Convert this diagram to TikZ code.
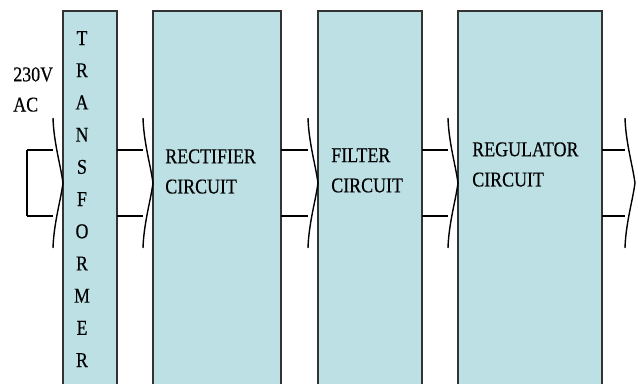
\documentclass[tikz,border=0pt]{standalone}
\usepackage{fontspec}
\usepackage{xcolor}
\usepackage{tikz}
\usetikzlibrary{positioning,calc}
\newfontfamily\bloquefuente[FakeStretch=0.85,FakeBold=0.4]{Liberation Serif}
\definecolor{cajaazul}{RGB}{188,224,228}
\definecolor{borde}{HTML}{333333}
% flecha de bloque: #1 = origen del vastago, #2 = punta
\newcommand{\bloqueflecha}[2]{%
  \draw[linea] (#1) ++(0,0.825) -- ($(#2)+(-0.25,0.825)$);
  \draw[linea] (#1) ++(0,-0.825) -- ($(#2)+(-0.25,-0.825)$);
  \draw[linea] ($(#2)+(-0.25,1.625)$) .. controls ($(#2)+(-0.23,1.0)$) and ($(#2)+(-0.06,0.45)$) .. (#2)
    .. controls ($(#2)+(-0.06,-0.45)$) and ($(#2)+(-0.23,-1.0)$) .. ($(#2)+(-0.25,-1.625)$);
}

\begin{document}
\begin{tikzpicture}[
  caja/.style={draw=borde,fill=cajaazul,line width=0.9pt,outer sep=0pt,
               minimum height=9.8cm,inner sep=0pt},
  rotulo/.style={inner sep=0pt,align=left,
                 font=\bloquefuente\fontsize{15}{21.5}\selectfont},
  letra/.style={inner sep=0pt,font=\bloquefuente\fontsize{15}{18}\selectfont},
  linea/.style={draw=black,line width=1pt,line join=round}
]
\clip (0,0) rectangle (15.95,-9.575);
\fill[white] (0,0) rectangle (15.95,-9.575);

\node[caja,minimum width=1.35cm,anchor=north west] (trafo) at (1.575,-0.275) {};
\node[caja,minimum width=3.2cm,right=0.9cm of trafo] (rect) {};
\node[caja,minimum width=2.6cm,right=0.925cm of rect] (filtro) {};
\node[caja,minimum width=3.6cm,right=0.9cm of filtro] (regul) {};

\foreach \l [count=\i from 0] in {T,R,A,N,S,F,O,R,M,E,R}
  \node[letra,anchor=base] (letra\i) at ($(trafo.north)+(-0.2,-0.85-0.805*\i)$) {\l};

\node[rotulo,below right=3.45cm and 0.3cm of rect.north west] (txtrect) {RECTIFIER\\CIRCUIT};
\node[rotulo,below right=3.425cm and 0.325cm of filtro.north west] (txtfiltro) {FILTER\\CIRCUIT};
\node[rotulo,below right=3.275cm and 0.35cm of regul.north west] (txtregul) {REGULATOR\\CIRCUIT};
\node[rotulo,anchor=north west] (txtent) at (0.325,-1.675) {230V\\AC};

\coordinate (eje) at (0,-4.575);
\coordinate (entrada) at (0.675,-4.575);
\coordinate (salida) at (15.875,-4.575);

\draw[linea] (entrada) ++(0,0.825) -- ++(0,-1.65);
\bloqueflecha{entrada}{trafo.west |- eje}
\bloqueflecha{trafo.east |- eje}{rect.west |- eje}
\bloqueflecha{rect.east |- eje}{filtro.west |- eje}
\bloqueflecha{filtro.east |- eje}{regul.west |- eje}
\bloqueflecha{regul.east |- eje}{salida}
\end{tikzpicture}
\end{document}
